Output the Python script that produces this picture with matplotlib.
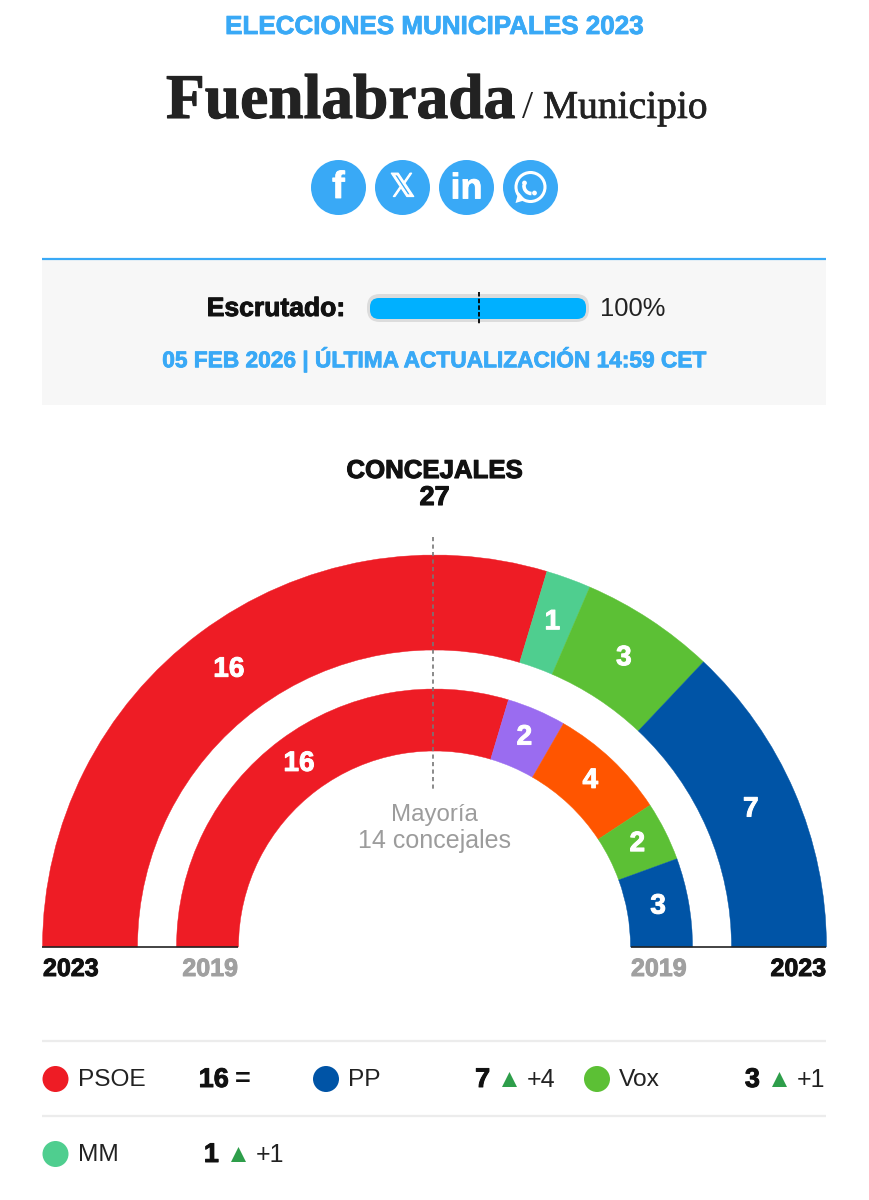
#!/usr/bin/env python3
"""Municipal election results panel: double hemicycle with party seat table."""
import matplotlib
matplotlib.use("Agg")
import matplotlib.pyplot as plt
import matplotlib.patheffects as pe
import numpy as np
from matplotlib.patches import Arc, Circle, FancyBboxPatch, Polygon, Rectangle, Wedge

WIDTH, HEIGHT = 869, 1200

SANS = ["Liberation Sans", "DejaVu Sans"]
SERIF = ["Liberation Serif", "DejaVu Serif"]

BLUE = "#39a9f6"
INK = "#111111"
DARK = "#222222"
GREY = "#a0a0a0"

seats_2023 = [16, 1, 3, 7]
colors_2023 = ["#ee1c25", "#4fce8f", "#5cc035", "#0054a6"]
seats_2019 = [16, 2, 4, 2, 3]
colors_2019 = ["#ee1c25", "#9a6cf0", "#ff5500", "#5cc035", "#0054a6"]

total_seats = 27
majority = 14

parties = ["PSOE", "PP", "Vox", "MM"]
party_colors = ["#ee1c25", "#0054a6", "#5cc035", "#4fce8f"]
party_seats = [16, 7, 3, 1]
party_change = [0, 4, 1, 1]

scrutinized = 100


def px(size):
    # font sizes below are given in pixels
    return size * 0.72


def label(ax, x, y, s, size, color=DARK, heavy=0.0, bold=False, ha="center", family=SANS, va="center"):
    # heavy thickens the glyphs with a stroke, the bold faces here are a bit light
    t = ax.text(x, y, s, color=color, fontsize=px(size), fontweight="bold" if bold else "normal",
                family=family, ha=ha, va=va)
    if heavy:
        t.set_path_effects([pe.withStroke(linewidth=heavy, foreground=color)])
    return t


def draw_ring(ax, seats, colors, r_out, r_in, cx, cy, label_size):
    angle = 180.0
    for n, color in zip(seats, colors):
        sweep = 180.0 * n / total_seats
        # y axis is flipped, so angles run the other way round
        ax.add_patch(Wedge((cx, cy), r_out, 360.0 - angle, 360.0 - angle + sweep,
                           width=r_out - r_in, facecolor=color, edgecolor=color, linewidth=0.3))
        mid = np.radians(angle - sweep / 2)
        r_mid = (r_out + r_in) / 2
        label(ax, cx + r_mid * np.cos(mid), cy - r_mid * np.sin(mid) - 1, str(n), label_size,
              color="white", bold=True, heavy=0.7)
        angle -= sweep


fig = plt.figure(figsize=(WIDTH / 100, HEIGHT / 100), dpi=100, facecolor="white")
ax = fig.add_axes([0, 0, 1, 1])
ax.set_xlim(0, WIDTH)
ax.set_ylim(HEIGHT, 0)
ax.axis("off")

# header
label(ax, 434.5, 27, "ELECCIONES MUNICIPALES 2023", 26, color=BLUE, bold=True, heavy=0.6)
label(ax, 166, 118, "Fuenlabrada", 63.5, bold=True, heavy=0.8, ha="left", family=SERIF, va="baseline")
label(ax, 522, 118, "/", 40, ha="left", family=SERIF, va="baseline")
label(ax, 543, 118, "Municipio", 39.5, heavy=0.5, ha="left", family=SERIF, va="baseline")

# share buttons
icon_x = [338.5, 402.5, 466.5, 530.5]
for x in icon_x:
    ax.add_patch(Circle((x, 187.5), 27.5, facecolor=BLUE, edgecolor="none"))
label(ax, icon_x[0], 188, "f", 38, color="white", bold=True, heavy=0.6)
label(ax, icon_x[1], 188, "\U0001D54F", 32, color="white", heavy=0.9, family="DejaVu Sans")
label(ax, icon_x[2], 189, "in", 36, color="white", bold=True, heavy=0.6)
wx = icon_x[3]
ax.add_patch(Circle((wx, 187), 14.5, facecolor="none", edgecolor="white", linewidth=2.2))
ax.add_patch(Polygon([(wx - 15, 203), (wx - 12, 192), (wx - 5, 200)], facecolor="white", edgecolor="none"))
ax.add_patch(Arc((wx + 1, 186), 15, 15, theta1=90, theta2=190, color="white", linewidth=2.6))
ax.add_patch(Circle((wx - 6, 183), 2.4, facecolor="white", edgecolor="none"))
ax.add_patch(Circle((wx + 4, 193), 2.4, facecolor="white", edgecolor="none"))

# scrutiny panel
ax.add_patch(Rectangle((42, 259), 784, 146, facecolor="#f7f7f7", edgecolor="none"))
ax.plot([42, 826], [259, 259], color=BLUE, linewidth=1.6, solid_capstyle="butt")
label(ax, 345, 309, "Escrutado:", 26.5, color=INK, bold=True, heavy=0.7, ha="right")
ax.add_patch(FancyBboxPatch((367, 294), 222, 28, boxstyle="round,pad=0,rounding_size=13",
                            facecolor="#dcdcdc", edgecolor="none"))
ax.add_patch(FancyBboxPatch((370, 298), 216 * scrutinized / 100, 21, boxstyle="round,pad=0,rounding_size=9",
                            facecolor="#00b0ff", edgecolor="none"))
ax.plot([479, 479], [292, 325], color="black", linewidth=1.3, linestyle=(0, (2.5, 1.2)))
label(ax, 600, 309, f"{scrutinized}%", 25.5, ha="left")
label(ax, 434.5, 359, "05 FEB 2026 | ÚLTIMA ACTUALIZACIÓN 14:59 CET", 22.7, color=BLUE, bold=True, heavy=0.6)

# hemicycle title
label(ax, 434.5, 471, "CONCEJALES", 25.8, color=INK, bold=True, heavy=0.8)
label(ax, 434.5, 498, str(total_seats), 27, color=INK, bold=True, heavy=0.8)

cx, cy = 434.5, 947
draw_ring(ax, seats_2023, colors_2023, 392, 297, cx, cy, 28)
draw_ring(ax, seats_2019, colors_2019, 258, 196, cx, cy, 28)

ax.plot([433, 433], [537, 790], color="#777777", linewidth=1.2, linestyle=(0, (2.5, 2)))
label(ax, 434.5, 815, "Mayoría", 24, color="#9c9c9c")
label(ax, 434.5, 841, f"{majority} concejales", 25, color="#9c9c9c")

# base rule under both ring ends
for x0, x1 in [(42, 238), (631, 826)]:
    ax.plot([x0, x1], [947, 947], color=DARK, linewidth=1.2, solid_capstyle="butt")

label(ax, 43, 969, "2023", 25, color=INK, bold=True, heavy=0.7, ha="left")
label(ax, 238, 969, "2019", 25, color=GREY, bold=True, heavy=0.7, ha="right")
label(ax, 631, 969, "2019", 25, color=GREY, bold=True, heavy=0.7, ha="left")
label(ax, 826, 969, "2023", 25, color=INK, bold=True, heavy=0.7, ha="right")

# seat table
for y in [1041, 1116]:
    ax.plot([42, 826], [y, y], color="#ececec", linewidth=1.6, solid_capstyle="butt")

dot_x = [55.5, 326, 597, 55.5]
row_y = [1079, 1079, 1079, 1154]
seat_right = [229, 490, 760, 219]
for name, color, n, change, x, y, right in zip(parties, party_colors, party_seats, party_change,
                                               dot_x, row_y, seat_right):
    ax.add_patch(Circle((x, y), 13, facecolor=color, edgecolor="none"))
    label(ax, x + 22, y + 1, name, 24.5, ha="left")
    label(ax, right, y + 1, str(n), 27, color=INK, bold=True, heavy=0.7, ha="right")
    if change == 0:
        label(ax, right + 6, y + 1, "=", 27, color=INK, bold=True, ha="left")
    else:
        tx = right + 19.5
        ax.add_patch(Polygon([(tx - 7.5, y + 8), (tx + 7.5, y + 8), (tx, y - 7)], facecolor="#2e9e4a",
                             edgecolor="none"))
        label(ax, right + 37, y + 1, f"+{change}", 25, ha="left")

fig.savefig("out.png", dpi=100, facecolor="white")
plt.close(fig)
